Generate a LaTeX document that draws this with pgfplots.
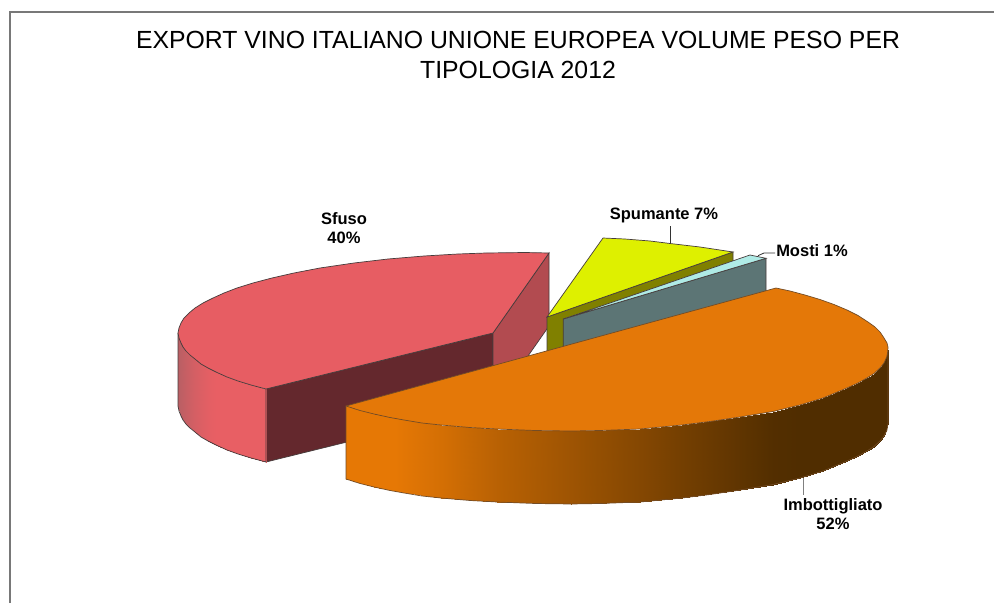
\documentclass[border=0pt]{standalone}
\usepackage{pgfplots}
\pgfplotsset{compat=1.18}
\usepackage{fontspec}
\setmainfont{Liberation Sans}

\definecolor{redtop}{RGB}{231,93,99}
\definecolor{reddark}{RGB}{100,40,45}
\definecolor{redcut}{RGB}{178,75,80}
\definecolor{yellowtop}{RGB}{222,240,0}
\definecolor{olive}{RGB}{128,128,0}
\definecolor{mostitop}{RGB}{175,235,230}
\definecolor{teal}{RGB}{92,117,117}
\definecolor{orangetop}{RGB}{228,120,8}
\definecolor{edge}{RGB}{70,60,60}
\definecolor{frame}{RGB}{120,120,120}

\begin{document}
\begin{tikzpicture}
\begin{axis}[
  scale only axis,
  width=994pt, height=603pt,
  xmin=0, xmax=994, ymin=0, ymax=603,
  y dir=reverse,
  hide axis,
  point meta min=0, point meta max=1,
  colormap={redwall}{rgb255=(185,95,100) rgb255=(232,95,100)},
  colormap={orangewall}{rgb255=(230,120,5) rgb255=(80,45,0)},
]

% page, keeps the whole area in the bounding box
\addplot[fill=white, draw=none] coordinates {(0,0) (994,0) (994,603) (0,603)} -- cycle;

% frame
\addplot[frame, line width=1.2pt] coordinates {(10,603) (10,12) (994,12)};

% Sfuso: cut walls
\addplot[fill=reddark, draw=edge, line width=.7pt] coordinates {(266,389) (493,333) (493,406) (266,462)} -- cycle;
\addplot[fill=redcut, draw=edge, line width=.7pt] coordinates {(493,333) (549,253) (549,326) (493,406)} -- cycle;
% Sfuso: outer wall
\addplot[surf, shader=interp, colormap name=redwall, mesh/cols=2, point meta=explicit] table[meta=c] {
x y c
178 333 0
178 406 0
181 343 0.1
181 416 0.1
186 351 0.3
186 424 0.3
195 359 0.6
195 432 0.6
208 368 0.9
208 441 0.9
216 372 1
216 445 1
227 377 1
227 450 1
251 385 1
251 458 1
266 389 1
266 462 1
};
\addplot[draw=edge, line width=.7pt] coordinates {(178,333) (178,406) (179,411) (181,416) (183,420) (186,424) (190,428) (195,432) (201,437) (208,441) (216,445) (227,450) (238,454) (251,458) (266,462) (266,389)};
% Sfuso: top
\addplot[fill=redtop, draw=edge, line width=.7pt] coordinates {(549,253) (525,252.5) (486,253) (458,254) (424,256) (388,259) (354,263) (320,268) (294,273) (272,278) (253,283) (237,288) (224,293) (213,298) (203,303) (195,308) (189,313) (184,318) (181,323) (179,328) (178,333) (179,338) (181,343) (183,347) (186,351) (190,355) (195,359) (201,364) (208,368) (216,372) (227,377) (238,381) (251,385) (266,389) (493,333)} -- cycle;

% Spumante
\addplot[fill=olive, draw=edge, line width=.7pt] coordinates {(547,317) (733,252) (733,325) (547,390)} -- cycle;
\addplot[fill=yellowtop, draw=edge, line width=.7pt] coordinates {(547,317) (603,238) (625,239) (650,241) (670,243.5) (700,247) (733,252)} -- cycle;

% Mosti
\addplot[fill=teal, draw=edge, line width=.7pt] coordinates {(563.3,319) (766,258.3) (766,331) (563.3,392)} -- cycle;
\addplot[fill=mostitop, draw=edge, line width=.7pt] coordinates {(563.3,319) (750,255) (766,258.3)} -- cycle;

% Imbottigliato: outer wall
\addplot[surf, shader=interp, colormap name=orangewall, mesh/cols=2, point meta=explicit] table[meta=c] {
x y c
346 406 0
346 479 0
374 414 0
374 487 0
395 418 0
395 491 0
441 425 0.12
441 498 0.12
497 429 0.3
497 502 0.3
571 431 0.48
571 504 0.48
640 429 0.65
640 502 0.65
682 425 0.76
682 498 0.76
740 417 0.9
740 490 0.9
773 411.5 0.98
773 484.5 0.98
800 405 1
800 478 1
823 398 1
823 471 1
847 388 1
847 461 1
858 383 1
858 456 1
867 378 1
867 451 1
874 373.5 1
874 446.5 1
880 368 1
880 441 1
884 363 1
884 436 1
888 350 1
888 423 1
};
\addplot[draw=brown!60!black, line width=.7pt] coordinates {(888,350) (888,423) (887,430) (884,436) (880,441) (874,446.5) (867,451) (858,456) (847,461) (823,471) (800,478) (773,484.5) (740,490) (710,494.5) (682,498) (640,502) (600,503.5) (571,504) (535,503.5) (497,502) (470,500.5) (441,498) (422,496) (404,493) (390,490.5) (374,487) (360,483.5) (346,479) (346,406)};
% Imbottigliato: top
\addplot[fill=orangetop, draw=brown!60!black, line width=.7pt] coordinates {(346,406) (360,410.5) (374,414) (390,417.5) (404,420) (422,423) (441,425) (470,427.5) (497,429) (535,430.5) (571,431) (600,430.5) (640,429) (682,425) (710,421.5) (740,417) (773,411.5) (800,405) (823,398) (847,388) (858,383) (867,378) (874,373.5) (880,368) (884,363) (886.7,357) (887.7,352) (888,347) (887,343) (884,338) (880,332) (875,327) (868,322) (858,315.5) (847,310) (834,304.5) (820,299.5) (805,295) (790,291) (776,288)} -- cycle;

% leader lines
\addplot[black!80, line width=.8pt] coordinates {(670,226) (670,243)};
\addplot[black!80, line width=.8pt] coordinates {(758,255.7) (764,253) (775,253)};
\addplot[gray, line width=.8pt] coordinates {(803,478) (803,495)};

% title and labels
\node[align=center, font=\fontsize{24.8}{30}\selectfont, text=black] at (axis cs:518,55) {EXPORT VINO ITALIANO UNIONE EUROPEA VOLUME PESO PER\\TIPOLOGIA 2012};
\node[align=center, font=\fontsize{16.5}{19}\selectfont\bfseries] at (axis cs:344,228) {Sfuso\\40\%};
\node[font=\fontsize{16.5}{19}\selectfont\bfseries] at (axis cs:664,215) {Spumante 7\%};
\node[font=\fontsize{16.5}{19}\selectfont\bfseries] at (axis cs:812,250.5) {Mosti 1\%};
\node[align=center, font=\fontsize{16.5}{19}\selectfont\bfseries] at (axis cs:833,514) {Imbottigliato\\52\%};

\end{axis}
\end{tikzpicture}
\end{document}
